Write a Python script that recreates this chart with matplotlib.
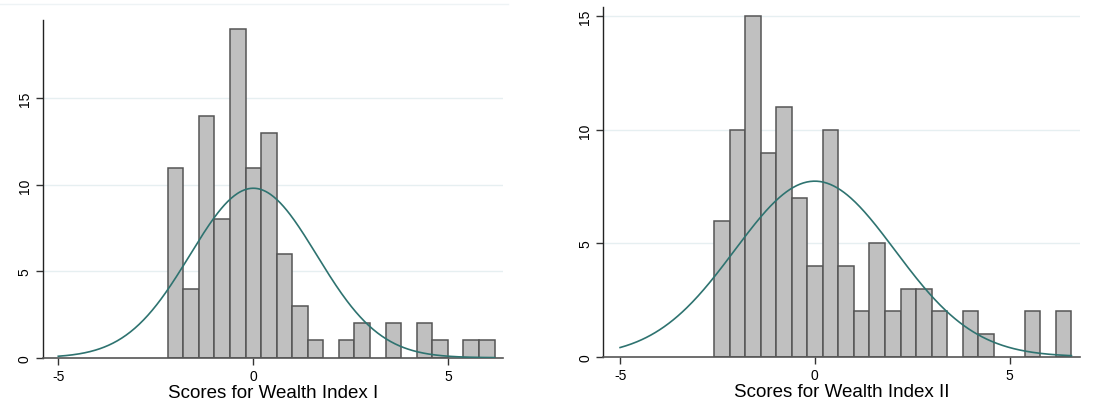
import numpy as np
import matplotlib
matplotlib.use("Agg")
import matplotlib.pyplot as plt
from matplotlib.lines import Line2D

plt.rcParams['font.family'] = ['Liberation Sans', 'DejaVu Sans']

# Wealth Index I
counts_1 = [11, 4, 14, 8, 19, 11, 13, 6, 3, 1, 0, 1, 2, 0, 2, 0, 2, 1, 0, 1, 1]
bin_start_1 = -2.195
bin_width_1 = 0.399
mean_1, sd_1 = 0.0, 1.624
label_1 = "Scores for Wealth Index I"

# Wealth Index II
counts_2 = [6, 10, 15, 9, 11, 7, 4, 10, 4, 2, 5, 2, 3, 3, 2, 0, 2, 1, 0, 0, 2, 0, 2]
bin_start_2 = -2.587
bin_width_2 = 0.399
mean_2, sd_2 = 0.0, 2.057
label_2 = "Scores for Wealth Index II"

x_ticks = [-5, 0, 5]
y_ticks_1 = [0, 5, 10, 15]
y_ticks_2 = [0, 5, 10, 15]

fig = plt.figure(figsize=(11.2, 4.1), dpi=100)

def panel(rect, counts, start, width, mu, sd, xlabel, xlim, ylim, yticks):
    ax = fig.add_axes(rect)
    counts = np.asarray(counts, dtype=float)
    edges = start + width * np.arange(len(counts) + 1)
    for y in yticks[1:]:
        ax.axhline(y, color='#E6EFF1', lw=1.0, zorder=0)
    mask = counts > 0
    ax.bar(edges[:-1][mask], counts[mask], width=width, align='edge',
           color='#C0C0C0', edgecolor='#555555', linewidth=1.1, zorder=2)
    n = counts.sum()
    xs = np.linspace(-5, edges[-1], 400)
    ys = n * width / (sd * np.sqrt(2 * np.pi)) * np.exp(-0.5 * ((xs - mu) / sd) ** 2)
    ax.plot(xs, ys, color='#2E7370', lw=1.2, zorder=3)
    ax.set_xlim(*xlim)
    ax.set_ylim(*ylim)
    ax.set_xticks(x_ticks)
    ax.set_xticklabels([str(t) for t in x_ticks])
    ax.set_yticks(yticks)
    ax.set_yticklabels([str(t) for t in yticks], rotation=90, va='center')
    for s in ['top', 'right']:
        ax.spines[s].set_visible(False)
    ax.spines['left'].set_color('#222222')
    ax.spines['bottom'].set_color('#555555')
    ax.spines['left'].set_linewidth(1.0)
    ax.spines['bottom'].set_linewidth(1.2)
    ax.tick_params(axis='both', length=5, width=1.0, color='#333333',
                   labelsize=10, pad=3)
    ax.set_xlabel(xlabel, fontsize=13.5, labelpad=1)
    return ax

panel([0.0381, 0.1251, 0.4113, 0.8244], counts_1, bin_start_1, bin_width_1,
      mean_1, sd_1, label_1, (-5.4, 6.41), (0, 19.55), y_ticks_1)
panel([0.5387, 0.1276, 0.4256, 0.852], counts_2, bin_start_2, bin_width_2,
      mean_2, sd_2, label_2, (-5.43, 6.81), (0, 15.4), y_ticks_2)

fig.add_artist(Line2D([0.0, 0.454], [1 - 5 / 410, 1 - 5 / 410],
                      color='#EEF3F5', lw=1.0, transform=fig.transFigure))

fig.savefig("out.png", dpi=100)
